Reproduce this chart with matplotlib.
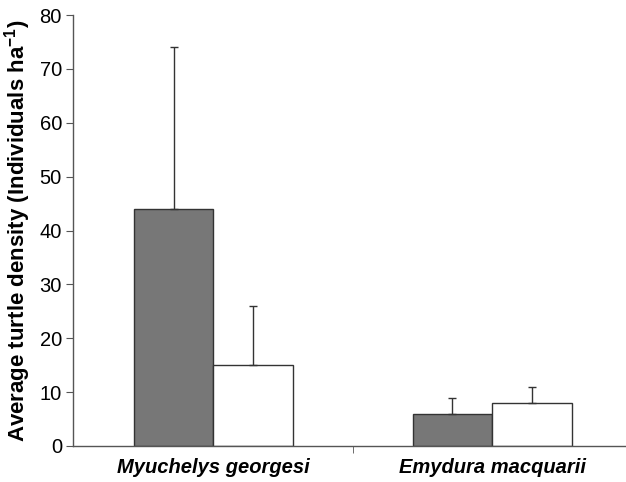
import matplotlib.pyplot as plt

plt.rcParams['font.family'] = ['Liberation Sans', 'DejaVu Sans']

# turtle density per species, two survey groups
species = ['Myuchelys georgesi', 'Emydura macquarii']
dens_a = [44, 6]
err_a = [30, 3]
dens_b = [15, 8]
err_b = [11, 3]

fig = plt.figure(figsize=(6.26, 4.82), dpi=100)
ax = fig.add_axes([0.1166, 0.0747, 0.8834, 0.894])

w = 0.285
xa = [i - w / 2 for i in range(len(species))]
xb = [i + w / 2 for i in range(len(species))]
ax.bar(xa, dens_a, w, color='#777777', edgecolor='#333333', linewidth=1, zorder=2)
ax.bar(xb, dens_b, w, color='white', edgecolor='#333333', linewidth=1, zorder=2)
ax.errorbar(xa, dens_a, yerr=[[0, 0], err_a], fmt='none', ecolor='#333333',
            elinewidth=1, capsize=3, capthick=1, zorder=3)
ax.errorbar(xb, dens_b, yerr=[[0, 0], err_b], fmt='none', ecolor='#333333',
            elinewidth=1, capsize=3, capthick=1, zorder=3)

ax.set_ylim(0, 80)
ax.set_xlim(-0.503, 1.48)
ax.set_yticks(range(0, 81, 10))
ax.set_xticks([0, 1])
ax.set_xticklabels(species, fontsize=14.5, fontweight='bold', fontstyle='italic')
ax.set_xticks([0.5], minor=True)
ax.tick_params(axis='x', which='major', length=0, pad=9)
ax.tick_params(axis='x', which='minor', length=5, color='#555555')
ax.tick_params(axis='y', labelsize=14.5, length=5, color='#555555', pad=3)
ax.set_ylabel('Average turtle density (Individuals ha$^{\\mathregular{-1}}$)',
              fontsize=16, fontweight='bold', labelpad=5)

for s in ['top', 'right']:
    ax.spines[s].set_visible(False)
for s in ['left', 'bottom']:
    ax.spines[s].set_color('#555555')
    ax.spines[s].set_linewidth(1)

fig.savefig('out.png', dpi=100)
